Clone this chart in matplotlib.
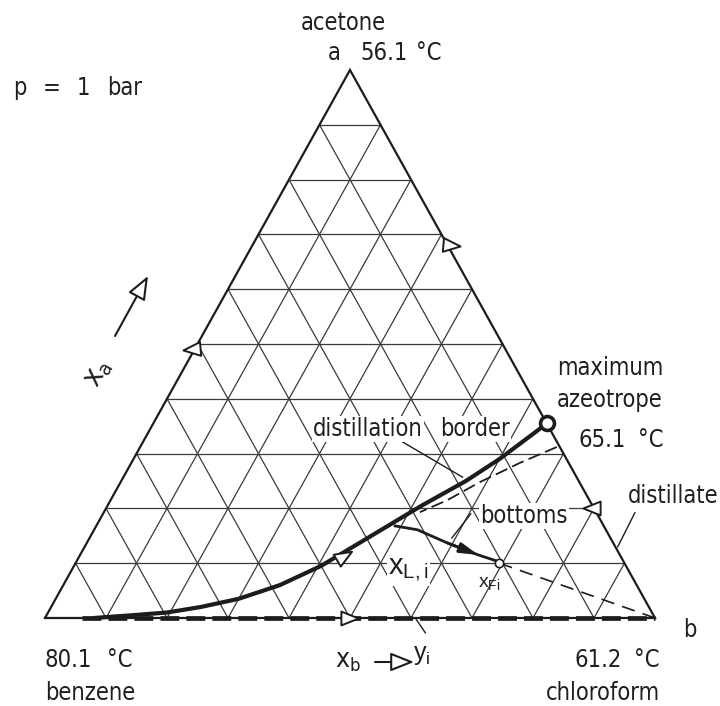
import matplotlib
matplotlib.use("Agg")
import matplotlib.pyplot as plt
from matplotlib import font_manager
from matplotlib.font_manager import FontProperties
from matplotlib.markers import MarkerStyle
from matplotlib.path import Path
from matplotlib.transforms import Affine2D
import numpy as np

# mole fractions: a = acetone, b = chloroform (benzene is the rest)
ticks = [0.1, 0.2, 0.3, 0.4, 0.5, 0.6, 0.7, 0.8, 0.9]

# distillation border, benzene corner -> maximum azeotrope
border_a = [0.0, 0.005, 0.01, 0.02, 0.035, 0.06, 0.095, 0.16, 0.205, 0.25, 0.29, 0.34, 0.355]
border_b = [0.08, 0.14, 0.195, 0.245, 0.30, 0.355, 0.405, 0.47, 0.515, 0.565, 0.60, 0.635, 0.645]
azeo_a, azeo_b = 0.355, 0.645

# dashed residue curve next to the border
resid_a = [0.312, 0.283, 0.248, 0.215, 0.193]
resid_b = [0.683, 0.637, 0.589, 0.552, 0.518]

# bottoms path x_L,i -> x_Fi and the balance line x_Fi -> b
bott_a = [0.168, 0.161, 0.137, 0.115, 0.102]
bott_b = [0.490, 0.530, 0.591, 0.653, 0.695]
feed_a, feed_b = 0.10, 0.695
vert_a, vert_b = 0.0, 1.0
base_start_b = 0.06

# direction markers (open triangles): a, b, pointing angle in degrees
mark_a = [0.49, 0.68, 0.20, 0.0, 0.111]
mark_b = [0.0, 0.322, 0.80, 0.495, 0.431]
mark_dir = [185, -5, 180, 0, 31]

# leader lines (start a, start b, end a, end b)
leaders = [
    (0.321, 0.426, 0.257, 0.556),   # distillation border
    (0.192, 0.871, 0.130, 0.874),   # distillate
    (0.190, 0.603, 0.146, 0.594),   # bottoms
    (0.0, 0.607, -0.027, 0.637),    # y_i
]


def narrow_font():
    # lettering is condensed, take a narrow face if one is installed
    order = ["Liberation Sans Narrow", "DejaVu Sans", "Noto Sans", "Open Sans", "Roboto"]
    for name in order:
        for f in font_manager.fontManager.ttflist:
            if f.name != name or f.style != "normal" or f.weight not in (400, "normal"):
                continue
            if name == "Liberation Sans Narrow" or "condensed" in str(f.stretch):
                return f.fname
    return None


path = narrow_font()
if path:
    LAB, FS = FontProperties(fname=path), 17
else:
    LAB, FS = FontProperties(family="DejaVu Sans"), 15
SUB = FontProperties(family=["Liberation Sans", "DejaVu Sans"])

INK = "#1c1c1c"
TXT = "#1f1f1f"

# arrowhead-like open triangle, tip along +x
HEAD = Path([(1.0, 0.0), (-0.55, 0.62), (-0.55, -0.62), (1.0, 0.0)],
            [Path.MOVETO, Path.LINETO, Path.LINETO, Path.CLOSEPOLY])


def tern(a, b):
    a = np.asarray(a, float)
    b = np.asarray(b, float)
    return b + a / 2, a


fig = plt.figure(figsize=(7.2, 7.06), dpi=100)
ax = fig.add_axes([0, 0, 1, 1])
ax.set_xlim(-0.0738, 1.1066)
ax.set_ylim(-0.1606, 1.1277)
ax.axis("off")

# grid: constant a, constant b, constant benzene
for t in ticks:
    x, y = tern([t, t], [0, 1 - t])
    ax.plot(x, y, color="#3a3a3a", lw=0.9, zorder=1)
    x, y = tern([0, 1 - t], [t, t])
    ax.plot(x, y, color="#3a3a3a", lw=0.9, zorder=1)
    x, y = tern([0, 1 - t], [1 - t, 0])
    ax.plot(x, y, color="#3a3a3a", lw=0.9, zorder=1)

# outline
x, y = tern([0, 0, 1, 0], [0, 1, 0, 0])
ax.plot(x, y, color=INK, lw=1.6, zorder=2, solid_joinstyle="miter")

# thick dashed line along the benzene-chloroform edge
x, y = tern([0, 0], [base_start_b, 1])
ax.plot(x, y, color=INK, lw=3.4, dashes=(4.0, 1.5), zorder=3)

# distillation border with azeotrope
x, y = tern(border_a, border_b)
ax.plot(x, y, color=INK, lw=3.0, zorder=4, solid_capstyle="round")
x, y = tern(azeo_a, azeo_b)
ax.plot(x, y, "o", ms=10, mfc="white", mec=INK, mew=2.6, zorder=6)

x, y = tern(resid_a, resid_b)
ax.plot(x, y, color=INK, lw=1.3, dashes=(7, 3), zorder=3)

# bottoms path with arrow, then dashed to vertex b
x, y = tern(bott_a, bott_b)
ax.plot(x, y, color=INK, lw=2.0, zorder=4)
ax.annotate("", xy=(x[3], y[3]), xytext=(x[2], y[2]),
            arrowprops=dict(arrowstyle="-|>,head_length=1.1,head_width=0.3",
                            color=INK, lw=2.0, shrinkA=0, shrinkB=0), zorder=5)
x, y = tern([feed_a, vert_a], [feed_b, vert_b])
ax.plot(x, y, color=INK, lw=1.2, dashes=(8, 5), zorder=3)
x, y = tern(feed_a, feed_b)
ax.plot(x, y, "o", ms=6, mfc="white", mec=INK, mew=1.2, zorder=6)

# open direction triangles
for ma, mb, d in zip(mark_a, mark_b, mark_dir):
    x, y = tern(ma, mb)
    m = MarkerStyle(HEAD, transform=Affine2D().rotate_deg(d))
    ax.plot(x, y, marker=m, ms=16, mfc="white", mec=INK,
            mew=1.4, ls="none", zorder=7)

for a0, b0, a1, b1 in leaders:
    x, y = tern([a0, a1], [b0, b1])
    ax.plot(x, y, color=INK, lw=1.0, zorder=5)


def px(x, y):
    return x / 720, 1 - y / 706


def label(x, y, s, ha="left", size=FS, prop=LAB, box=False, **kw):
    bb = dict(boxstyle="square,pad=0.05", fc="white", ec="none") if box else None
    ax.text(*px(x, y), s, transform=ax.transAxes, ha=ha, va="baseline",
            fontproperties=prop, fontsize=size, color=TXT, bbox=bb, zorder=8, **kw)


# widely spaced lettering is set word by word
for x, s in [(13, "p"), (43, "="), (77, "1"), (107, "bar")]:
    label(x, 95, s)
label(343, 30, "acetone", ha="center")
for x, s in [(328, "a"), (360, "56.1"), (416, "°C")]:
    label(x, 60, s)
label(663, 375, "maximum", ha="right")
label(663, 407, "azeotrope", ha="right")
label(578, 447, "65.1")
label(663, 447, "°C", ha="right")
label(313, 436, "distillation", box=True)
label(440, 436, "border", box=True)
label(628, 503, "distillate")
label(480, 523, "bottoms", box=True)
label(388, 575, r"$\mathregular{x_{L,i}}$", size=21, prop=SUB, box=True)
label(478, 587, r"$\mathregular{x_{Fi}}$", size=14, prop=SUB)
label(413, 660, r"$\mathregular{y_i}$", size=18, prop=SUB)
label(683, 637, "b")
label(45, 667, "80.1")
label(107, 667, "°C")
label(45, 700, "benzene")
label(575, 667, "61.2")
label(660, 667, "°C", ha="right")
label(660, 700, "chloroform", ha="right")
label(335, 667, r"$\mathregular{x_b}$", size=FS + 2)
ax.text(*px(98, 373), r"$\mathregular{x_a}$", transform=ax.transAxes,
        ha="center", va="center", rotation=60, fontproperties=LAB,
        fontsize=FS + 4, color=TXT)

# composition arrows beside the axes
head = dict(arrowstyle="-|>,head_length=0.9,head_width=0.36", mutation_scale=16,
            fc="white", ec=INK, lw=1.5, shrinkA=0, shrinkB=0)
ax.annotate("", xy=px(148, 276), xytext=px(115, 336), xycoords="axes fraction",
            textcoords="axes fraction", arrowprops=head)
ax.annotate("", xy=px(414, 662), xytext=px(375, 662), xycoords="axes fraction",
            textcoords="axes fraction", arrowprops=head)

fig.savefig("out.png", dpi=100)
